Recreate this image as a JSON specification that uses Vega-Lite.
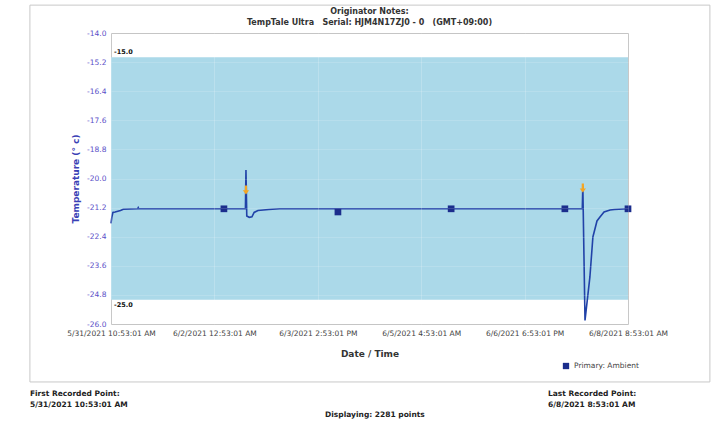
{
  "$schema": "https://vega.github.io/schema/vega-lite/v6.json",
  "width": 517,
  "height": 291,
  "autosize": {"type": "none"},
  "padding": {"left": 111, "top": 33, "right": 98, "bottom": 101},
  "background": "white",
  "title": {
    "text": "Originator Notes:",
    "subtitle": "TempTale Ultra\u00a0\u00a0 Serial: HJM4N17ZJ0 - 0\u00a0\u00a0 (GMT+09:00)",
    "anchor": "middle",
    "frame": "group",
    "font": "DejaVu Sans",
    "fontSize": 8,
    "fontWeight": "bold",
    "color": "#333333",
    "subtitleFont": "DejaVu Sans",
    "subtitleFontSize": 8,
    "subtitleFontWeight": "bold",
    "subtitleColor": "#333333",
    "offset": -22,
    "subtitlePadding": 3
  },
  "config": {
    "view": {"stroke": "#bbbbbb"},
    "font": "DejaVu Sans",
    "locale": {"number": {"decimal": ".", "thousands": ",", "grouping": [3], "currency": ["$", ""], "minus": "-"}},
    "axis": {"labelOverlap": false},
    "axisY": {"labelOverlap": false, "tickCount": 12}
  },
  "layer": [
    {
      "data": {"values": [{"k": 1}]},
      "mark": {"type": "rect", "fillOpacity": 0, "stroke": "#c8c8c8", "strokeWidth": 1},
      "encoding": {
        "x": {"datum": {"year": 2021, "month": 5, "date": 30, "hours": 5, "minutes": 5, "seconds": 1, "utc": true}, "type": "temporal"},
        "x2": {"datum": {"year": 2021, "month": 6, "date": 9, "hours": 14, "minutes": 59, "seconds": 1, "utc": true}},
        "y": {"datum": -12.85, "type": "quantitative"},
        "y2": {"datum": -28.39}
      }
    },
    {
      "data": {"values": [{"k": 1}]},
      "mark": {"type": "rect", "color": "#abd9e9"},
      "encoding": {
        "x": {"datum": {"year": 2021, "month": 5, "date": 31, "hours": 10, "minutes": 53, "seconds": 1, "utc": true}, "type": "temporal"},
        "x2": {"datum": {"year": 2021, "month": 6, "date": 8, "hours": 8, "minutes": 53, "seconds": 1, "utc": true}},
        "y": {"datum": -15, "type": "quantitative"},
        "y2": {"datum": -25}
      }
    },
    {
      "data": {"values": [
        {"t": "2021-05-31T10:53:01Z", "v": -21.85},
        {"t": "2021-05-31T11:11:01Z", "v": -21.6},
        {"t": "2021-05-31T11:35:01Z", "v": -21.4},
        {"t": "2021-05-31T12:23:01Z", "v": -21.38},
        {"t": "2021-05-31T14:23:01Z", "v": -21.32},
        {"t": "2021-05-31T15:23:01Z", "v": -21.27},
        {"t": "2021-05-31T20:41:01Z", "v": -21.25},
        {"t": "2021-05-31T20:53:01Z", "v": -21.2},
        {"t": "2021-05-31T21:05:01Z", "v": -21.25},
        {"t": "2021-06-02T04:23:01Z", "v": -21.25},
        {"t": "2021-06-02T12:17:01Z", "v": -21.25},
        {"t": "2021-06-02T12:29:01Z", "v": -19.65},
        {"t": "2021-06-02T12:47:01Z", "v": -21.55},
        {"t": "2021-06-02T13:41:01Z", "v": -21.6},
        {"t": "2021-06-02T14:41:01Z", "v": -21.58},
        {"t": "2021-06-02T15:29:01Z", "v": -21.4},
        {"t": "2021-06-02T16:53:01Z", "v": -21.32},
        {"t": "2021-06-02T20:53:01Z", "v": -21.28},
        {"t": "2021-06-03T00:53:01Z", "v": -21.25},
        {"t": "2021-06-03T22:17:01Z", "v": -21.25},
        {"t": "2021-06-05T15:53:01Z", "v": -21.25},
        {"t": "2021-06-07T09:41:01Z", "v": -21.25},
        {"t": "2021-06-07T16:05:01Z", "v": -21.25},
        {"t": "2021-06-07T16:17:01Z", "v": -20.3},
        {"t": "2021-06-07T17:05:01Z", "v": -25.85},
        {"t": "2021-06-07T18:53:01Z", "v": -24.06},
        {"t": "2021-06-07T19:59:01Z", "v": -22.41},
        {"t": "2021-06-07T21:29:01Z", "v": -21.75},
        {"t": "2021-06-07T22:35:01Z", "v": -21.59},
        {"t": "2021-06-08T00:05:01Z", "v": -21.38},
        {"t": "2021-06-08T02:17:01Z", "v": -21.3},
        {"t": "2021-06-08T03:53:01Z", "v": -21.28},
        {"t": "2021-06-08T08:53:01Z", "v": -21.25}
      ]},
      "mark": {"type": "line", "color": "#2142a8", "strokeWidth": 1.6},
      "encoding": {
        "x": {
          "field": "t",
          "type": "temporal",
          "scale": {
            "type": "utc",
            "domain": [
              {"year": 2021, "month": 5, "date": 31, "hours": 10, "minutes": 53, "seconds": 1, "utc": true},
              {"year": 2021, "month": 6, "date": 8, "hours": 8, "minutes": 53, "seconds": 1, "utc": true}
            ]
          },
          "axis": {
            "values": [
              {"year": 2021, "month": 5, "date": 31, "hours": 10, "minutes": 53, "seconds": 1, "utc": true},
              {"year": 2021, "month": 6, "date": 2, "hours": 0, "minutes": 53, "seconds": 1, "utc": true},
              {"year": 2021, "month": 6, "date": 3, "hours": 14, "minutes": 53, "seconds": 1, "utc": true},
              {"year": 2021, "month": 6, "date": 5, "hours": 4, "minutes": 53, "seconds": 1, "utc": true},
              {"year": 2021, "month": 6, "date": 6, "hours": 18, "minutes": 53, "seconds": 1, "utc": true},
              {"year": 2021, "month": 6, "date": 8, "hours": 8, "minutes": 53, "seconds": 1, "utc": true}
            ],
            "labelExpr": "(utcmonth(datum.value)+1) + '/' + utcdate(datum.value) + '/' + utcyear(datum.value) + ' ' + ((utchours(datum.value) % 12 == 0) ? 12 : (utchours(datum.value) % 12)) + ':' + (utcminutes(datum.value) < 10 ? '0' : '') + utcminutes(datum.value) + ':' + (utcseconds(datum.value) < 10 ? '0' : '') + utcseconds(datum.value) + ' ' + (utchours(datum.value) < 12 ? 'AM' : 'PM')",
            "labelFont": "DejaVu Sans",
            "labelFontSize": 7.5,
            "labelColor": "#444444",
            "labelPadding": 5,
            "labelFlush": false,
            "labelOverlap": false,
            "ticks": false,
            "domain": false,
            "grid": true,
            "gridColor": "#ffffff",
            "gridOpacity": 0.2,
            "zindex": 1,
            "title": "Date / Time",
            "titleFont": "DejaVu Sans",
            "titleFontSize": 9,
            "titleFontWeight": "bold",
            "titleColor": "#333333",
            "titlePadding": 13
          }
        },
        "y": {
          "field": "v",
          "type": "quantitative",
          "scale": {"domain": [-26, -14], "nice": false, "zero": false},
          "axis": {
            "values": [-14, -15.2, -16.4, -17.6, -18.8, -20, -21.2, -22.4, -23.6, -24.8, -26],
            "tickCount": 12,
            "format": ".1f",
            "labelFont": "DejaVu Sans",
            "labelFontSize": 7.5,
            "labelColor": "#5a50c8",
            "labelPadding": 5,
            "labelOverlap": false,
            "labelFlush": false,
            "ticks": false,
            "domain": false,
            "grid": true,
            "gridColor": "#ffffff",
            "gridOpacity": 0.15,
            "zindex": 1,
            "title": "Temperature (° c)",
            "titleFont": "DejaVu Sans",
            "titleFontSize": 9,
            "titleFontWeight": "bold",
            "titleColor": "#3a3fb5",
            "titlePadding": 6
          }
        }
      }
    },
    {
      "data": {"values": [
        {"t": "2021-06-02T04:23:01Z", "v": -21.25, "series": "Primary: Ambient"},
        {"t": "2021-06-03T22:17:01Z", "v": -21.38, "series": "Primary: Ambient"},
        {"t": "2021-06-05T15:53:01Z", "v": -21.25, "series": "Primary: Ambient"},
        {"t": "2021-06-07T09:41:01Z", "v": -21.25, "series": "Primary: Ambient"},
        {"t": "2021-06-08T08:53:01Z", "v": -21.25, "series": "Primary: Ambient"}
      ]},
      "mark": {"type": "point", "shape": "square", "filled": true, "size": 45, "opacity": 1},
      "encoding": {
        "x": {"field": "t", "type": "temporal"},
        "y": {"field": "v", "type": "quantitative"},
        "color": {
          "field": "series",
          "type": "nominal",
          "scale": {"domain": ["Primary: Ambient"], "range": ["#1b2d8c"]},
          "legend": {
            "orient": "none",
            "legendX": 451,
            "legendY": 329,
            "title": null,
            "symbolType": "square",
            "symbolSize": 40,
            "labelFont": "DejaVu Sans",
            "labelFontSize": 7.5,
            "labelColor": "#444444"
          }
        }
      }
    },
    {
      "data": {"values": [
        {"t": "2021-06-02T12:29:01Z", "v": -20.47},
        {"t": "2021-06-07T16:17:01Z", "v": -20.39}
      ]},
      "mark": {"type": "point", "shape": "M-0.25,-1H0.25V0.1H0.7L0,1L-0.7,0.1H-0.25Z", "filled": true, "size": 81, "color": "#f5a623", "opacity": 1},
      "encoding": {
        "x": {"field": "t", "type": "temporal"},
        "y": {"field": "v", "type": "quantitative"}
      }
    },
    {
      "data": {"values": [{"label": "-15.0", "v": -15}]},
      "mark": {"type": "text", "align": "left", "baseline": "bottom", "dx": 3, "dy": -2, "fontSize": 6.5, "fontWeight": "bold", "color": "#111111", "font": "DejaVu Sans"},
      "encoding": {
        "x": {"datum": {"year": 2021, "month": 5, "date": 31, "hours": 10, "minutes": 53, "seconds": 1, "utc": true}, "type": "temporal"},
        "y": {"field": "v", "type": "quantitative"},
        "text": {"field": "label"}
      }
    },
    {
      "data": {"values": [{"label": "-25.0", "v": -25}]},
      "mark": {"type": "text", "align": "left", "baseline": "top", "dx": 3, "dy": 2, "fontSize": 6.5, "fontWeight": "bold", "color": "#111111", "font": "DejaVu Sans"},
      "encoding": {
        "x": {"datum": {"year": 2021, "month": 5, "date": 31, "hours": 10, "minutes": 53, "seconds": 1, "utc": true}, "type": "temporal"},
        "y": {"field": "v", "type": "quantitative"},
        "text": {"field": "label"}
      }
    },
    {
      "data": {"values": [{"label": "First Recorded Point:\n5/31/2021 10:53:01 AM"}]},
      "mark": {"type": "text", "align": "left", "baseline": "top", "lineBreak": "\n", "lineHeight": 11, "fontSize": 7.5, "fontWeight": "bold", "color": "#222222", "font": "DejaVu Sans"},
      "encoding": {
        "x": {"datum": {"year": 2021, "month": 5, "date": 30, "hours": 5, "minutes": 5, "seconds": 1, "utc": true}, "type": "temporal"},
        "y": {"datum": -28.72, "type": "quantitative"},
        "text": {"field": "label"}
      }
    },
    {
      "data": {"values": [{"label": "Last Recorded Point:\n6/8/2021 8:53:01 AM"}]},
      "mark": {"type": "text", "align": "left", "baseline": "top", "lineBreak": "\n", "lineHeight": 11, "fontSize": 7.5, "fontWeight": "bold", "color": "#222222", "font": "DejaVu Sans"},
      "encoding": {
        "x": {"datum": {"year": 2021, "month": 6, "date": 7, "hours": 3, "minutes": 29, "seconds": 1, "utc": true}, "type": "temporal"},
        "y": {"datum": -28.72, "type": "quantitative"},
        "text": {"field": "label"}
      }
    },
    {
      "data": {"values": [{"label": "Displaying: 2281 points"}]},
      "mark": {"type": "text", "align": "center", "baseline": "top", "fontSize": 7.5, "fontWeight": "bold", "color": "#222222", "font": "DejaVu Sans"},
      "encoding": {
        "x": {"datum": {"year": 2021, "month": 6, "date": 4, "hours": 11, "minutes": 53, "seconds": 1, "utc": true}, "type": "temporal"},
        "y": {"datum": -29.59, "type": "quantitative"},
        "text": {"field": "label"}
      }
    }
  ]
}
